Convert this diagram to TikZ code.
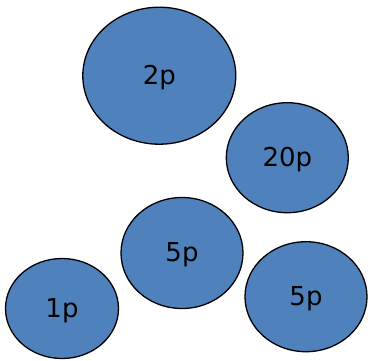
\documentclass[tikz,border=0pt]{standalone}
\usepackage{fontspec}
\setmainfont{DejaVu Sans}
\usetikzlibrary{shapes.geometric}
\definecolor{coinblue}{HTML}{4F81BD}
\begin{document}
\begin{tikzpicture}[x=1pt,y=-1pt,
  coin/.style={ellipse,draw=black,line width=1.3pt,fill=coinblue,inner sep=0pt,
    font=\fontsize{26}{30}\selectfont},
  lbl/.style={font=\fontsize{26}{30}\selectfont,inner sep=0pt,yshift=-2pt}]
\useasboundingbox (0,0) rectangle (368,360);
\node[coin,minimum width=153pt,minimum height=137pt] (c2) at (159.3,75.7) {};
\node[coin,minimum width=122pt,minimum height=110pt] (c20) at (287.3,157.7) {};
\node[coin,minimum width=122pt,minimum height=111pt] (c5a) at (182,253) {};
\node[coin,minimum width=122pt,minimum height=110pt] (c5b) at (306,296.7) {};
\node[coin,minimum width=113pt,minimum height=100pt] (c1) at (62,308.5) {};
\node[lbl] (t2) at (c2.center) {2p};
\node[lbl] (t20) at (c20.center) {20p};
\node[lbl] (t5a) at (c5a.center) {5p};
\node[lbl] (t5b) at (c5b.center) {5p};
\node[lbl] (t1) at (c1.center) {1p};
\end{tikzpicture}
\end{document}
